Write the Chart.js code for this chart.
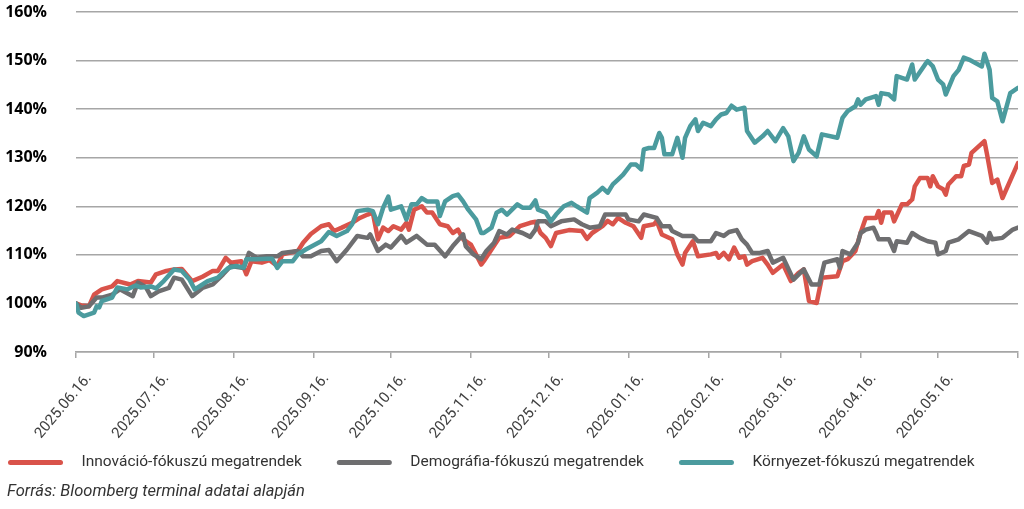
<!DOCTYPE html>
<html>
<head>
<meta charset="utf-8">
<script src="https://cdn.jsdelivr.net/npm/chart.js@4.4.1/dist/chart.umd.min.js"></script>
<style>
  html, body { margin: 0; padding: 0; background: #fff; }
  canvas { display: block; }
</style>
</head>
<body>
<canvas id="chart" width="1024" height="509"></canvas>
<script>
// -----------------------------
//  DATA (days counted from 2025.06.16.)
// -----------------------------
const tickDays = [0, 30, 61, 92, 122, 153, 183, 214, 245, 273, 304, 334, 365];
const tickLabels = ["2025.06.16.", "2025.07.16.", "2025.08.16.", "2025.09.16.", "2025.10.16.", "2025.11.16.",
  "2025.12.16.", "2026.01.16.", "2026.02.16.", "2026.03.16.", "2026.04.16.", "2026.05.16.", ""];
const yTicks = [90, 100, 110, 120, 130, 140, 150, 160];

const seriesNames = ["Innováció-fókuszú megatrendek", "Demográfia-fókuszú megatrendek", "Környezet-fókuszú megatrendek"];
const sourceText = "Forrás: Bloomberg terminal adatai alapján";

const innovDays = [0,2,5,7,10,14,16,21,24,29,31,35,38,41,45,49,53,55,58,60,64,66,68,72,75,78,80,86,88,91,95,98,100,103,107,110,113,115,117,119,121,123,126,128,129,131,134,136,138,141,144,146,148,150,153,155,157,158,161,164,168,172,176,178,180,182,184,186,191,196,198,200,204,206,208,210,213,216,219,220,224,225,227,231,233,235,236,239,241,246,248,249,251,253,255,257,259,260,262,266,268,270,274,277,280,282,284,287,289,295,297,299,302,304,306,310,311,312,313,316,317,320,322,324,325,327,330,331,332,334,336,337,338,341,343,344,346,347,352,353,355,357,359,365];
const innovValues = [100.0,99.6,99.4,101.8,102.9,103.5,104.6,103.9,104.6,104.3,106.0,106.7,107.0,107.1,104.6,105.5,106.7,106.7,109.4,108.4,108.7,106.0,108.7,108.4,108.9,107.7,110.1,110.8,112.5,114.3,115.9,116.3,114.9,115.6,116.6,117.6,118.3,118.7,113.2,115.6,114.9,115.9,115.2,116.6,115.2,119.3,120.0,118.7,118.7,116.3,115.9,114.5,115.2,113.2,112.1,110.1,108.0,108.7,111.1,113.5,113.9,115.9,116.6,116.8,114.5,113.5,111.8,114.5,115.1,114.9,113.3,114.5,115.9,117.0,116.3,117.6,116.6,115.9,113.5,115.9,116.3,117.0,114.2,113.2,110.1,108.0,110.4,112.8,109.7,110.1,110.4,109.4,110.4,109.1,111.5,109.4,109.7,108.0,108.7,109.4,108.0,106.3,108.0,104.6,106.3,107.0,100.5,100.1,105.3,105.6,108.7,109.1,110.8,114.5,117.6,117.6,119.0,116.6,118.7,118.7,116.9,120.4,120.4,121.4,124.1,125.8,125.8,124.1,126.2,124.1,123.5,122.4,124.5,126.2,126.2,128.3,128.6,131.0,133.4,130.7,124.8,125.5,121.7,128.9];

const demoDays = [0,2,5,8,10,14,17,22,24,27,29,32,36,38,41,45,49,53,57,60,65,67,70,74,78,80,86,88,91,95,98,101,105,109,113,114,117,120,122,126,128,132,136,139,143,146,150,151,154,157,159,162,164,167,169,173,176,178,179,182,184,188,193,196,199,203,205,209,213,214,218,220,225,227,230,231,235,239,241,246,248,251,253,256,258,260,262,265,268,270,274,278,282,285,288,290,295,296,297,300,303,304,306,309,310,311,315,317,318,322,324,327,330,333,334,337,338,342,346,351,353,354,355,359,363,365];
const demoValues = [100.0,99.1,99.4,101.2,101.2,101.8,102.9,101.5,104.3,103.4,101.5,102.5,103.2,105.3,104.9,101.5,103.2,103.9,106.0,107.7,107.3,110.4,109.4,109.7,109.7,110.4,110.8,109.7,109.7,110.8,111.0,108.7,111.1,113.9,113.5,114.2,110.8,112.1,111.5,113.9,112.5,113.9,112.1,112.1,109.7,111.8,114.2,111.8,110.1,109.1,110.8,112.5,114.9,114.2,115.2,114.5,113.7,115.2,116.9,116.9,115.9,116.9,117.3,116.3,115.6,115.9,118.3,118.3,118.3,117.3,116.9,118.3,117.6,115.9,115.9,114.9,113.9,113.9,112.8,112.8,114.5,113.9,114.7,115.1,113.2,112.1,110.4,110.4,110.8,108.4,109.4,104.9,107.0,103.9,103.9,108.4,109.1,107.3,110.8,110.1,112.5,114.5,115.2,115.6,114.5,113.2,113.2,110.8,112.8,112.5,114.5,113.5,112.8,112.5,110.1,110.8,112.5,113.2,114.9,113.9,112.5,114.5,113.2,113.5,115.2,115.6];

const envDays = [0,1,3,7,8,9,10,14,16,20,23,25,29,31,34,38,41,44,46,49,51,55,57,59,62,65,66,70,74,76,78,80,84,86,89,95,98,101,105,107,109,113,115,117,119,121,122,126,128,130,132,134,136,140,141,143,146,148,150,152,155,157,158,161,163,165,167,171,173,176,178,179,182,184,186,189,192,194,198,199,202,204,206,208,210,212,215,217,219,220,222,224,226,227,228,231,233,235,236,238,240,241,243,246,248,250,252,254,256,259,260,263,266,268,271,274,276,278,280,282,284,287,289,295,297,299,302,303,304,306,310,311,312,315,317,318,322,324,325,329,330,332,334,336,337,340,342,344,346,351,352,354,355,357,359,362,365];
const envValues = [100.0,98.1,97.4,98.1,99.4,99.2,100.5,101.2,103.3,102.9,103.7,103.3,103.5,103.1,104.6,107.0,106.7,104.9,102.9,103.9,104.6,105.3,106.4,107.3,107.7,107.4,109.1,109.1,109.2,109.2,107.3,108.7,108.7,110.1,111.1,112.8,114.7,113.9,114.9,116.3,119.0,119.3,119.0,116.3,119.7,122.0,119.3,120.0,117.3,120.4,120.4,121.7,121.0,121.0,118.0,121.0,122.1,122.4,121.0,119.3,117.3,114.5,114.5,115.6,118.7,119.3,118.3,120.4,119.7,119.7,121.2,119.3,118.7,116.9,118.3,120.0,120.7,120.0,118.7,121.7,122.8,123.8,122.8,124.5,125.5,126.5,128.6,128.6,127.6,131.7,132.0,132.0,135.1,134.1,130.7,130.7,134.1,130.0,134.1,136.5,137.9,135.5,137.2,136.5,137.9,138.9,139.2,140.7,139.9,140.3,135.5,133.1,134.4,135.5,133.4,136.1,134.4,129.3,131.0,134.4,131.7,130.3,134.8,134.1,138.2,139.6,140.6,142.0,140.9,142.0,142.7,140.9,143.3,143.0,142.0,146.8,146.1,149.2,146.1,149.2,149.9,148.8,146.1,145.1,143.0,146.8,148.1,150.6,150.2,148.8,151.4,148.1,142.3,141.6,137.5,143.3,144.4];

// -----------------------------
//  STYLE
// -----------------------------
const colors = ["#d9534a", "#6e6e70", "#4b9b9e"];
const gridColor = "#a6a6a6";

function toPoints(days, values) {
    return days.map((d, i) => ({ x: d, y: values[i] }));
}

// legend + source line drawn under the axis
const footerPlugin = {
    id: "footer",
    afterDraw(chart) {
        const ctx = chart.ctx;
        ctx.save();
        ctx.font = "15.5px Roboto";
        ctx.textBaseline = "middle";
        ctx.fillStyle = "#333333";
        let x = 8;
        const y = 462.5;
        chart.data.datasets.forEach(ds => {
            ctx.strokeStyle = ds.borderColor;
            ctx.lineWidth = 5;
            ctx.lineCap = "round";
            ctx.beginPath();
            ctx.moveTo(x + 2.5, y);
            ctx.lineTo(x + 52.5, y);
            ctx.stroke();
            const tx = x + 73.5;
            ctx.fillText(ds.label, tx, y);
            x = tx + ctx.measureText(ds.label).width + 35;
        });
        ctx.font = "italic 16.5px Roboto";
        ctx.fillText(sourceText, 7, 492);
        ctx.restore();
    }
};

const datasets = [
    { label: seriesNames[0], data: toPoints(innovDays, innovValues), borderColor: colors[0], order: 3 },
    { label: seriesNames[1], data: toPoints(demoDays, demoValues), borderColor: colors[1], order: 2 },
    { label: seriesNames[2], data: toPoints(envDays, envValues), borderColor: colors[2], order: 1 }
].map(ds => Object.assign(ds, {
    borderWidth: 4.5,
    pointRadius: 0,
    tension: 0,
    fill: false,
    borderJoinStyle: "round",
    borderCapStyle: "round"
}));

new Chart(document.getElementById("chart"), {
    type: "line",
    data: { datasets },
    plugins: [footerPlugin],
    options: {
        responsive: false,
        animation: false,
        devicePixelRatio: 1,
        layout: { padding: { left: 0, right: 6, top: 12, bottom: 0 } },
        plugins: {
            legend: { display: false },
            tooltip: { enabled: false }
        },
        scales: {
            x: {
                type: "linear",
                min: tickDays[0],
                max: tickDays[tickDays.length - 1],
                afterBuildTicks: axis => { axis.ticks = tickDays.map(v => ({ value: v })); },
                afterFit: axis => {
                    axis.height = 157;
                    axis.paddingLeft = 0;
                    axis.paddingRight = 0;
                },
                grid: { drawOnChartArea: false, drawTicks: true, tickLength: 6, color: gridColor, lineWidth: 1.5 },
                border: { display: true, color: gridColor, width: 1.5 },
                ticks: {
                    autoSkip: false,
                    minRotation: 50,
                    maxRotation: 50,
                    padding: 12,
                    labelOffset: 13,
                    color: "#404040",
                    font: { family: "Roboto", size: 15 },
                    callback: (v, i) => tickLabels[i]
                }
            },
            y: {
                min: yTicks[0],
                max: yTicks[yTicks.length - 1],
                afterBuildTicks: axis => { axis.ticks = yTicks.map(v => ({ value: v })); },
                afterFit: axis => {
                    axis.width = 76;
                    axis.paddingTop = 0;
                    axis.paddingBottom = 0;
                },
                grid: { drawTicks: false, color: gridColor, lineWidth: 1.5 },
                border: { display: false },
                ticks: {
                    padding: 29,
                    color: "#000000",
                    font: { family: "Open Sans", size: 16, weight: "bold" },
                    callback: v => v + "%"
                }
            }
        }
    }
});
</script>
</body>
</html>
